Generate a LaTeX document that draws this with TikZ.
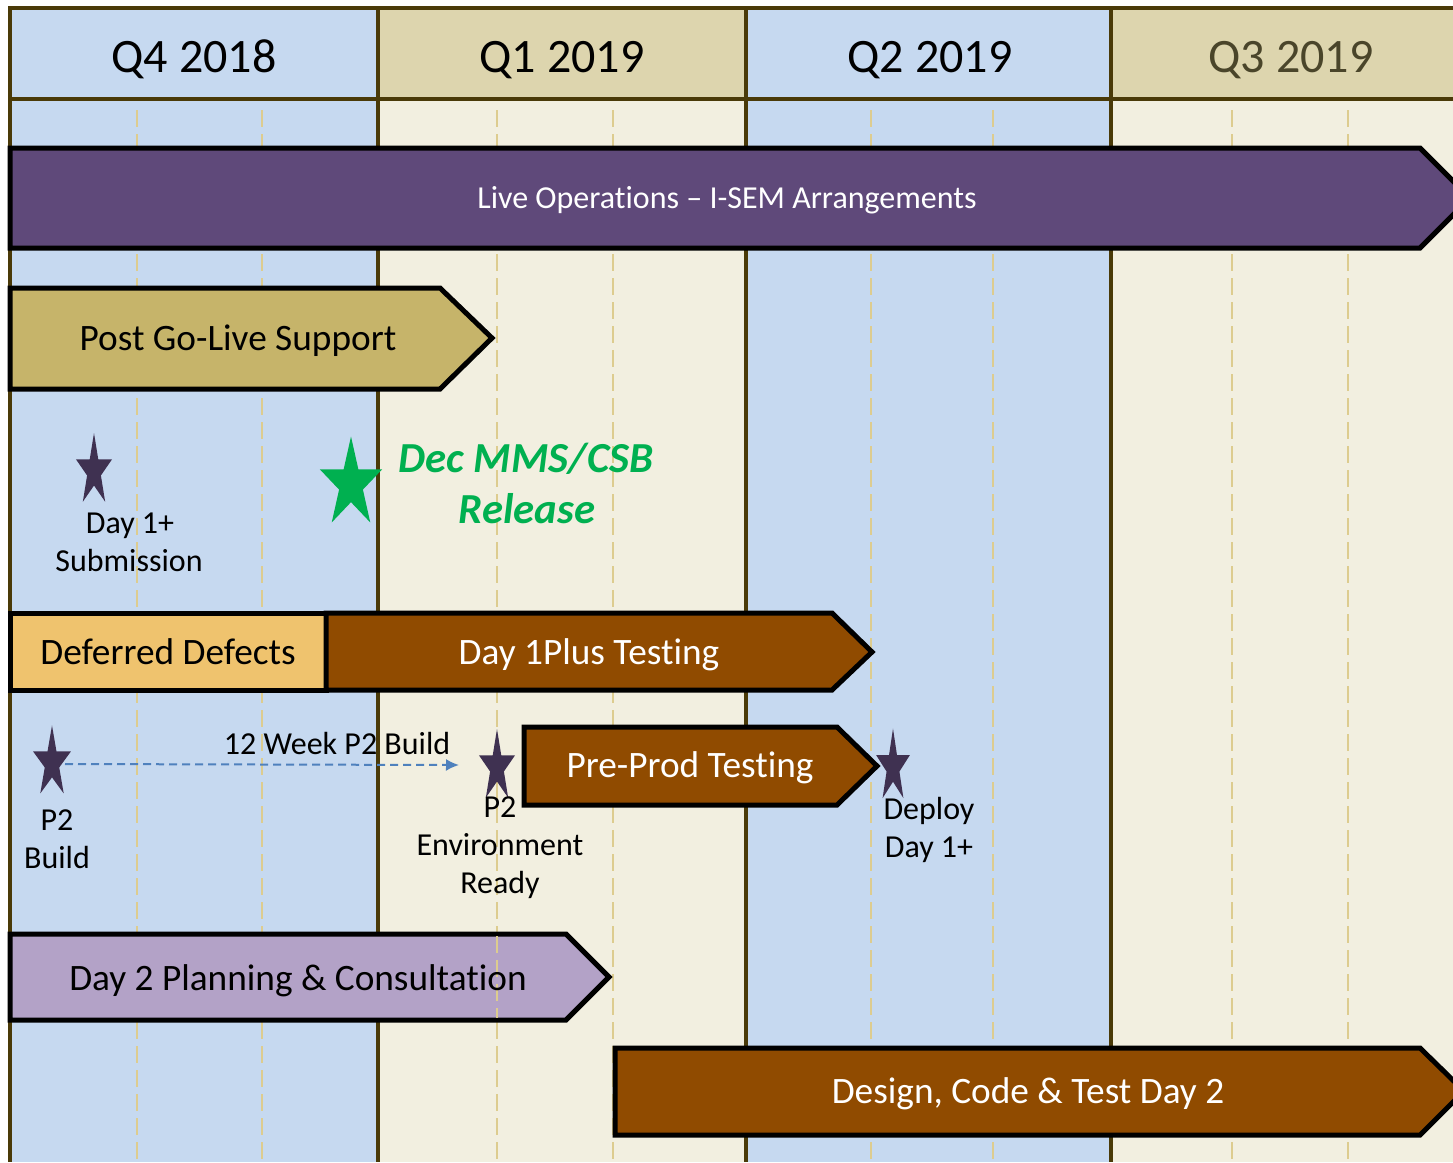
\documentclass[tikz,border=0pt]{standalone}
\usepackage{fontspec}
\setmainfont{Carlito}[Ligatures={TeX,NoCommon}]
\usetikzlibrary{arrows.meta}

\definecolor{qblue}{HTML}{C6D9F0}
\definecolor{qcream}{HTML}{F2EFE0}
\definecolor{qtan}{HTML}{DDD5AE}
\definecolor{qline}{HTML}{4A3A08}
\definecolor{qmonth}{HTML}{DDCC8F}
\definecolor{qthree}{HTML}{4A452A}
\definecolor{liveops}{HTML}{5F497A}
\definecolor{golive}{HTML}{C6B46A}
\definecolor{defects}{HTML}{EFC36E}
\definecolor{testing}{HTML}{904B00}
\definecolor{planning}{HTML}{B3A2C7}
\definecolor{mstarc}{HTML}{3F3151}
\definecolor{release}{HTML}{00B050}
\definecolor{buildarrow}{HTML}{4F81BD}

% star: x, y, radius, x factor, colour
\newcommand{\mstar}[5]{%
  \fill[#5] plot[samples at={0,...,9}]
    ({#1+#4*#3*(1-0.618*mod(\x,2))*cos(90+36*\x)},
     {#2-#3*(1-0.618*mod(\x,2))*sin(90+36*\x)}) -- cycle;}

\tikzset{
  quarter/.style={font=\fontsize{48}{48}\selectfont, anchor=base},
  bar/.style={draw=black, line width=5pt, line join=miter},
  barlabel/.style={font=\fontsize{37.3}{37.3}\selectfont, anchor=base},
  note/.style={font=\fontsize{32}{32}\selectfont, anchor=base},
  month/.style={qmonth, line width=2pt, dash pattern=on 17pt off 7pt},
  colline/.style={qline, line width=4.5pt},
  buildline/.style={buildarrow, line width=2pt, dash pattern=on 8pt off 5pt,
    -{Latex[length=13pt, width=12pt]}},
}

\begin{document}
\begin{tikzpicture}[x=1pt, y=-1pt]
  \useasboundingbox (0,0) rectangle (1453,1162);
  \clip (0,0) rectangle (1453,1162);
  % quarters
  \fill[qblue] (10,8) rectangle (378,1162);
  \fill[qtan] (378,8) rectangle (746,100);
  \fill[qcream] (378,100) rectangle (746,1162);
  \fill[qblue] (746,8) rectangle (1111,1162);
  \fill[qtan] (1111,8) rectangle (1453,100);
  \fill[qcream] (1111,100) rectangle (1453,1162);
  % months
  \draw[month] (137,110) -- (137,1162);
  \draw[month] (262,110) -- (262,1162);
  \draw[month] (497,110) -- (497,1162);
  \draw[month] (613,110) -- (613,1162);
  \draw[month] (871,110) -- (871,1162);
  \draw[month] (993,110) -- (993,1162);
  \draw[month] (1232,110) -- (1232,1162);
  \draw[month] (1348,110) -- (1348,1162);
  \draw[colline] (8,8) -- (1453,8);
  \draw[colline] (8,99) -- (1453,99);
  \draw[colline] (10,8) -- (10,1162);
  \draw[colline] (378,8) -- (378,1162);
  \draw[colline] (746,8) -- (746,1162);
  \draw[colline] (1111,8) -- (1111,1162);
  \node[quarter] (q4) at (194,72) {Q4 2018};
  \node[quarter] (q1) at (562,72) {Q1 2019};
  \node[quarter] (q2) at (930,72) {Q2 2019};
  \node[quarter, text=qthree] (q3) at (1291,72) {Q3 2019};

  % bars
  \draw[bar, fill=liveops] (10,148) -- (1420,148) -- (1470,198) -- (1420,248) -- (10,248) -- cycle;
  \node[font=\fontsize{32}{32}\selectfont, anchor=base, text=white] (live) at (727,208)
    {Live Operations – I-SEM Arrangements};
  \draw[bar, fill=golive] (10,288) -- (440,288) -- (492,338) -- (440,389) -- (10,389) -- cycle;
  \node[barlabel] (support) at (238,350) {Post Go-Live Support};
  \draw[bar, fill=defects] (10,613) rectangle (326,690);
  \node[barlabel] (defer) at (168,664) {Deferred Defects};
  \draw[bar, fill=testing] (326,613) -- (832,613) -- (872,652) -- (832,690) -- (326,690) -- cycle;
  \node[barlabel, text=white] (dayplus) at (589,664) {Day 1Plus Testing};
  \draw[bar, fill=testing] (524,727) -- (837,727) -- (877,766) -- (837,805) -- (524,805) -- cycle;
  \node[barlabel, text=white] (preprod) at (690,777) {Pre-Prod Testing};
  \draw[bar, fill=planning] (10,934) -- (566,934) -- (609,977) -- (566,1020) -- (10,1020) -- cycle;
  \draw[month] (497,936) -- (497,1018);
  \node[barlabel] (daytwo) at (298,990) {Day 2 Planning \& Consultation};
  \draw[bar, fill=testing] (615,1048) -- (1420,1048) -- (1464,1091) -- (1420,1135) -- (615,1135) -- cycle;
  \node[barlabel, text=white] (design) at (1028,1103) {Design, Code \& Test Day 2};

  % milestones
  \mstar{94}{471}{38}{0.5}{mstarc}
  \node[note] (sub1) at (130,533) {Day 1+};
  \node[note] (sub2) at (129,571) {Submission};
  \mstar{351}{484}{47.5}{0.69}{release}
  \node[font=\fontsize{42.8}{42.8}\selectfont\bfseries\itshape, anchor=base, text=release]
    (dec1) at (526,472) {Dec MMS/CSB};
  \node[font=\fontsize{42.8}{42.8}\selectfont\bfseries\itshape, anchor=base, text=release]
    (dec2) at (527,523) {Release};
  \mstar{52}{763}{37.6}{0.53}{mstarc}
  \node[note] (build1) at (57,830) {P2};
  \node[note] (build2) at (57,868) {Build};
  \coordinate (buildstart) at (65,764);
  \coordinate (buildend) at (459,765);
  \draw[buildline] (buildstart) -- (buildend);
  \node[note] (weeks) at (337,754) {12 Week P2 Build};
  \mstar{497}{767}{38}{0.5}{mstarc}
  \node[note] (env1) at (500,817) {P2};
  \node[note] (env2) at (500,855) {Environment};
  \node[note] (env3) at (500,893) {Ready};
  \mstar{893}{767}{38.5}{0.46}{mstarc}
  \node[note] (deploy1) at (929,819) {Deploy};
  \node[note] (deploy2) at (929,857) {Day 1+};
\end{tikzpicture}
\end{document}
